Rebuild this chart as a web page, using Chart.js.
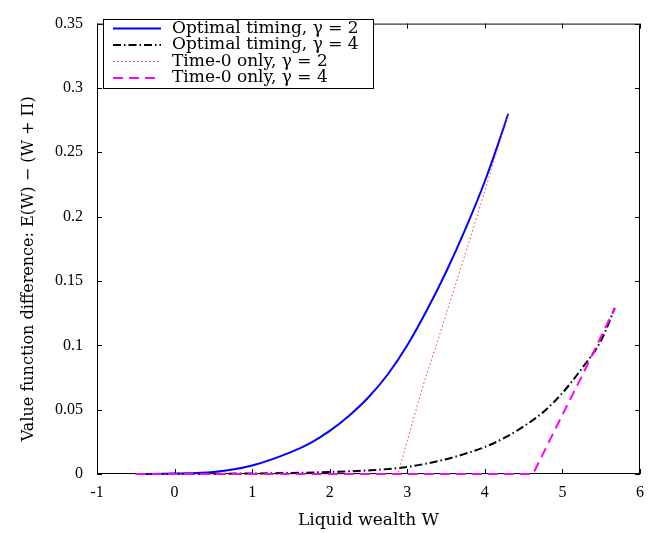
<!DOCTYPE html>
<html>
<head>
<meta charset="utf-8">
<script src="https://cdn.jsdelivr.net/npm/chart.js@4.4.1/dist/chart.umd.min.js"></script>
<style>
  html, body { margin: 0; padding: 0; background: #fff; }
  #wrap { width: 655px; height: 533px; }
</style>
</head>
<body>
<div id="wrap"><canvas id="c"></canvas></div>
<script>
// 数据：估计值
const optW2 = [-0.5, 0, 0.5, 1, 1.5, 1.75, 2, 2.25, 2.5, 2.75, 3, 3.25, 3.5, 3.75, 4, 4.25, 4.3];
const optV2 = [0, 0.0003, 0.0015, 0.0066, 0.017, 0.024, 0.0335, 0.0453, 0.0596, 0.0775, 0.1, 0.127, 0.157, 0.1905, 0.2275, 0.2705, 0.28];

const optW4 = [-0.5, 0, 1, 1.5, 2, 2.5, 3, 3.5, 3.75, 4, 4.25, 4.5, 4.75, 5, 5.25, 5.5, 5.675];
const optV4 = [0, 0.0001, 0.0004, 0.0008, 0.0016, 0.0028, 0.0055, 0.0115, 0.0158, 0.021, 0.028, 0.037, 0.048, 0.063, 0.082, 0.104, 0.129];

const t0W2 = [-0.5, 2.88, 3.0, 3.2, 3.4, 3.6, 3.8, 4.0, 4.15, 4.3];
const t0V2 = [0, 0, 0.026, 0.068, 0.105, 0.143, 0.181, 0.22, 0.25, 0.28];

const t0W4 = [-0.5, 4.62, 5.0, 5.25, 5.5, 5.675];
const t0V4 = [0, 0, 0.046, 0.076, 0.107, 0.129];

const xTicks = [-1, 0, 1, 2, 3, 4, 5, 6];
const yTicks = [0, 0.05, 0.1, 0.15, 0.2, 0.25, 0.3, 0.35];

const legendLabels = ['Optimal timing, γ = 2', 'Optimal timing, γ = 4', 'Time-0 only, γ = 2', 'Time-0 only, γ = 4'];

const tickFont = { family: "'Liberation Serif', serif", size: 16 };
const textFont = "'DejaVu Serif', serif";

function pts(ws, vs) {
  return ws.map((w, i) => ({ x: w, y: vs[i] }));
}

const series = [
  { data: pts(optW2, optV2), color: '#0000ff', width: 2, dash: [], order: 4, smooth: true },
  { data: pts(optW4, optV4), color: '#000000', width: 2, dash: [8, 3, 1.5, 3], order: 3, smooth: true },
  { data: pts(t0W2, t0V2), color: '#ff3030', width: 1, dash: [1.5, 2.5], order: 2, smooth: false },
  { data: pts(t0W4, t0V4), color: '#ff00ff', width: 2, dash: [10, 6], order: 1, smooth: false }
];

// 画框和向内的刻度线（在曲线下面）
const framePlugin = {
  id: 'frame',
  beforeDatasetsDraw(chart) {
    const { ctx, chartArea: a, scales: { x, y } } = chart;
    ctx.save();
    ctx.strokeStyle = '#000';
    ctx.lineWidth = 1;
    ctx.strokeRect(a.left + 0.5, a.top + 0.5, a.right - a.left - 1, a.bottom - a.top - 1);
    const tl = 5;
    ctx.beginPath();
    xTicks.forEach(v => {
      const px = Math.round(x.getPixelForValue(v)) + 0.5;
      ctx.moveTo(px, a.bottom); ctx.lineTo(px, a.bottom - tl);
      ctx.moveTo(px, a.top); ctx.lineTo(px, a.top + tl);
    });
    yTicks.forEach(v => {
      const py = Math.round(y.getPixelForValue(v)) + 0.5;
      ctx.moveTo(a.left, py); ctx.lineTo(a.left + tl, py);
      ctx.moveTo(a.right, py); ctx.lineTo(a.right - tl, py);
    });
    ctx.stroke();
    ctx.restore();
  },
  // 图例（在曲线上面）
  afterDatasetsDraw(chart) {
    const { ctx } = chart;
    ctx.save();
    const bx = 103.5, by = 19.5, bw = 270, bh = 69;
    ctx.fillStyle = '#fff';
    ctx.fillRect(bx, by, bw, bh);
    ctx.strokeStyle = '#000';
    ctx.lineWidth = 1;
    ctx.strokeRect(bx, by, bw, bh);
    ctx.font = '17px ' + textFont;
    ctx.textBaseline = 'middle';
    const rows = [28.5, 45, 61.5, 78];
    series.forEach((s, i) => {
      ctx.strokeStyle = s.color;
      ctx.lineWidth = s.width;
      ctx.setLineDash(s.dash);
      ctx.beginPath();
      ctx.moveTo(113, rows[i]);
      ctx.lineTo(161, rows[i]);
      ctx.stroke();
      ctx.fillStyle = '#000';
      ctx.fillText(legendLabels[i], 172, rows[i]);
    });
    ctx.restore();
  }
};

new Chart(document.getElementById('c'), {
  type: 'line',
  data: {
    datasets: series.map(s => ({
      data: s.data,
      borderColor: s.color,
      borderWidth: s.width,
      borderDash: s.dash,
      pointRadius: 0,
      fill: false,
      clip: false,
      cubicInterpolationMode: s.smooth ? 'monotone' : 'default',
      tension: 0,
      order: s.order
    }))
  },
  options: {
    responsive: true,
    maintainAspectRatio: false,
    animation: false,
    layout: { padding: { top: 15, right: 15, left: 0, bottom: 0 } },
    plugins: { legend: { display: false }, tooltip: { enabled: false } },
    scales: {
      x: {
        type: 'linear',
        min: -1, max: 6,
        afterBuildTicks: s => { s.ticks = xTicks.map(v => ({ value: v })); },
        afterFit: s => { s.height = 59; },
        grid: { display: false, drawTicks: false },
        border: { display: false },
        ticks: { color: '#000', font: tickFont, padding: 9, maxRotation: 0 },
        title: {
          display: true,
          text: 'Liquid wealth W',
          color: '#000',
          font: { family: textFont, size: 17 },
          padding: { top: 0, bottom: 2 }
        }
      },
      y: {
        min: 0, max: 0.35,
        afterBuildTicks: s => { s.ticks = yTicks.map(v => ({ value: v })); },
        afterFit: s => { s.width = 97; },
        grid: { display: false, drawTicks: false },
        border: { display: false },
        ticks: { color: '#000', font: tickFont, padding: 14, callback: v => String(+v.toFixed(2)) },
        title: {
          display: true,
          text: 'Value function difference: E(W) − (W + Π)\u2003\u2003\u2002',
          color: '#000',
          font: { family: textFont, size: 16 },
          padding: { top: 19, bottom: 0 }
        }
      }
    }
  },
  plugins: [framePlugin]
});
</script>
</body>
</html>
